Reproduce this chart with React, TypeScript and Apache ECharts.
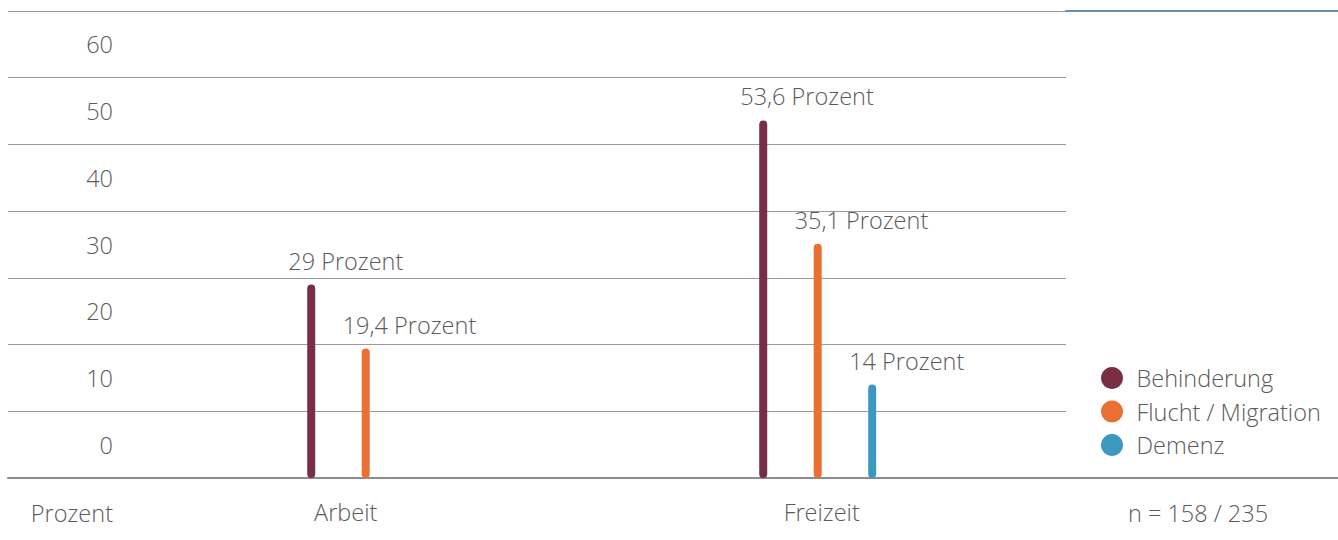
import React, { useEffect, useRef } from "react";
import * as echarts from "echarts";

const categories = ["Arbeit", "Freizeit"];
const seriesNames = ["Behinderung", "Flucht / Migration", "Demenz"];
const behinderung = [29, 53.6];
const flucht = [19.4, 35.1];
const demenz: (number | null)[] = [null, 14];
const colors = ["#7a2e46", "#e96f32", "#3b98bf"];
const yTicks = { min: 0, max: 70, interval: 10 };
const axisUnit = "Prozent";
const sampleNote = "n = 158 / 235";

const FONT = "'Open Sans', 'Noto Sans', sans-serif";
const TEXT = "#5a5a5a";
const FS = 23.5;

export default function App() {
  const ref = useRef<HTMLDivElement>(null);
  useEffect(() => {
    if (!ref.current) return;
    const chart = echarts.init(ref.current, undefined, { renderer: "svg" });
    const fmt = (v: number) => String(v).replace(".", ",") + " Prozent";
    const top = 11;
    const bottom = 62;
    const band = (540 - top - bottom) / 7;
    const label = {
      show: true,
      position: "top",
      distance: 12,
      align: "left",
      offset: [-23, 0],
      fontFamily: FONT,
      fontWeight: 300,
      fontSize: FS,
      color: TEXT,
      formatter: (p: any) => fmt(p.value),
    };
    const data = [behinderung, flucht, demenz];
    chart.setOption({
      animation: false,
      textStyle: { fontFamily: FONT, fontWeight: 300 },
      grid: [
        { left: 139.7, width: 904, top, bottom },
        { left: 8, right: 272, top, bottom },
        { left: 8, right: 0, top, bottom },
        { left: 1066, right: 0, top, bottom },
      ],
      xAxis: [
        {
          type: "category",
          gridIndex: 0,
          data: [
            { value: categories[0], textStyle: { padding: [0, 40, 0, 0] } },
            { value: categories[1], textStyle: { padding: [0, 0, 0, 8] } },
          ],
          axisLine: { show: false },
          axisTick: { show: false },
          axisLabel: {
            margin: 22,
            fontSize: FS,
            fontWeight: 300,
            fontFamily: FONT,
            color: TEXT,
          },
        },
        { type: "value", gridIndex: 1, show: false },
        {
          type: "value",
          gridIndex: 2,
          position: "bottom",
          axisLine: { show: true, onZero: false, lineStyle: { color: "#8e8c8a", width: 2 } },
          axisTick: { show: false },
          axisLabel: { show: false },
          splitLine: { show: false },
        },
        {
          type: "value",
          gridIndex: 3,
          position: "top",
          axisLine: { show: true, onZero: false, lineStyle: { color: "#2f6a98", width: 1.5 } },
          axisTick: { show: false },
          axisLabel: { show: false },
          splitLine: { show: false },
        },
      ],
      yAxis: [
        { type: "value", gridIndex: 0, ...yTicks, show: false },
        {
          type: "value",
          gridIndex: 1,
          ...yTicks,
          axisLine: { show: false },
          axisTick: { show: false },
          splitLine: { show: true, lineStyle: { color: "#9c9a98", width: 1.2 } },
          axisLabel: {
            inside: true,
            margin: 105,
            align: "right",
            verticalAlign: "bottom",
            lineHeight: band,
            fontSize: FS,
            fontWeight: 300,
            fontFamily: FONT,
            color: TEXT,
            formatter: (v: number) => (v >= yTicks.max ? "" : String(v)),
          },
        },
        { type: "value", gridIndex: 2, ...yTicks, show: false },
        { type: "value", gridIndex: 3, ...yTicks, show: false },
      ],
      legend: {
        orient: "vertical",
        left: 1096,
        top: 361,
        icon: "circle",
        itemWidth: 39,
        itemHeight: 22,
        itemGap: 9.5,
        data: seriesNames,
        textStyle: {
          fontSize: FS,
          lineHeight: 22,
          fontWeight: 300,
          fontFamily: FONT,
          color: TEXT,
        },
      },
      graphic: [
        {
          type: "text",
          x: 113,
          y: 513,
          style: {
            text: axisUnit,
            align: "right",
            verticalAlign: "middle",
            fontSize: FS,
            fontWeight: 300,
            fontFamily: FONT,
            fill: TEXT,
          },
        },
        {
          type: "text",
          x: 1198,
          y: 513,
          style: {
            text: sampleNote,
            align: "center",
            verticalAlign: "middle",
            fontSize: FS,
            fontWeight: 300,
            fontFamily: FONT,
            fill: TEXT,
          },
        },
      ],
      series: seriesNames.map((name, i) => ({
        name,
        type: "bar",
        xAxisIndex: 0,
        yAxisIndex: 0,
        data: data[i],
        barWidth: 8,
        barGap: "581%",
        itemStyle: { color: colors[i], borderRadius: 4 },
        label,
      })),
    });
    return () => chart.dispose();
  }, []);
  return (
    <div
      ref={ref}
      style={{ position: "fixed", left: 0, top: 0, width: 1338, height: 540, background: "#fff" }}
    />
  );
}
